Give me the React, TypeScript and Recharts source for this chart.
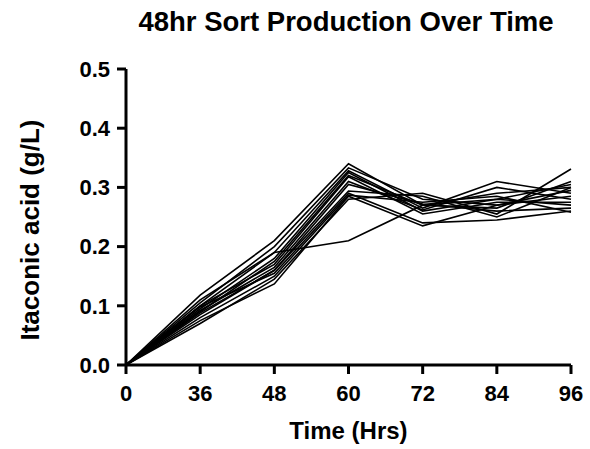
import React from 'react';
import { LineChart, Line, XAxis, YAxis, Label } from 'recharts';

const timeLabels = ['0', '36', '48', '60', '72', '84', '96'];
const yTicks = [0, 0.1, 0.2, 0.3, 0.4, 0.5];

const s1 = [0, 0.118, 0.21, 0.34, 0.27, 0.29, 0.3];
const s2 = [0, 0.105, 0.2, 0.333, 0.28, 0.27, 0.285];
const s3 = [0, 0.1, 0.19, 0.328, 0.265, 0.31, 0.29];
const s4 = [0, 0.095, 0.18, 0.325, 0.26, 0.28, 0.305];
const s5 = [0, 0.09, 0.175, 0.32, 0.27, 0.265, 0.31];
const s6 = [0, 0.1, 0.17, 0.318, 0.255, 0.275, 0.275];
const s7 = [0, 0.092, 0.165, 0.31, 0.262, 0.3, 0.28];
const s8 = [0, 0.088, 0.16, 0.305, 0.272, 0.26, 0.265];
const s9 = [0, 0.085, 0.16, 0.294, 0.285, 0.25, 0.3];
const s10 = [0, 0.098, 0.155, 0.29, 0.24, 0.245, 0.26];
const s11 = [0, 0.08, 0.15, 0.287, 0.275, 0.285, 0.258];
const s12 = [0, 0.075, 0.137, 0.285, 0.235, 0.27, 0.295];
const s13 = [0, 0.07, 0.145, 0.28, 0.29, 0.255, 0.331];
const s14 = [0, 0.11, 0.19, 0.21, 0.27, 0.28, 0.27];

const series = [s1, s2, s3, s4, s5, s6, s7, s8, s9, s10, s11, s12, s13, s14];

const data = timeLabels.map((t, i) => {
  const row: Record<string, string | number> = { t };
  series.forEach((s, k) => {
    row['s' + k] = s[i];
  });
  return row;
});

const font = '"Liberation Sans", Arial, sans-serif';

const YTitle = () => (
  <text
    x={30}
    y={230}
    transform="rotate(-90 30 230)"
    textAnchor="middle"
    dominantBaseline="central"
    style={{ fill: '#000', fontSize: 26, fontWeight: 'bold', fontFamily: font }}
  >
    Itaconic acid (g/L)
  </text>
);

export default function App() {
  return (
    <div style={{ position: 'absolute', left: 0, top: 0, width: 590, height: 449, background: '#fff', fontFamily: font }}>
      <div style={{ position: 'absolute', left: 126, width: 440, top: 6, textAlign: 'center', fontWeight: 'bold', fontSize: 27.5, lineHeight: '31px', fontFamily: font, color: '#000' }}>
        48hr Sort Production Over Time
      </div>
      <LineChart width={590} height={449} data={data} margin={{ top: 69, right: 19, bottom: 0, left: 0 }}>
        <XAxis
          dataKey="t"
          type="category"
          height={84}
          axisLine={{ stroke: '#000', strokeWidth: 3 }}
          tickLine={{ stroke: '#000', strokeWidth: 3 }}
          tickSize={9}
          tickMargin={11}
          tick={{ fill: '#000', fontSize: 22, fontWeight: 'bold', fontFamily: font }}
          interval={0}
        >
          <Label value="Time (Hrs)" position="insideBottom" offset={10} style={{ fill: '#000', fontSize: 24, fontWeight: 'bold', fontFamily: font }} />
        </XAxis>
        <YAxis
          type="number"
          domain={[0, 0.5]}
          ticks={yTicks}
          width={126}
          axisLine={{ stroke: '#000', strokeWidth: 3 }}
          tickLine={{ stroke: '#000', strokeWidth: 3 }}
          tickSize={9}
          tickMargin={7}
          tick={{ fill: '#000', fontSize: 22, fontWeight: 'bold', fontFamily: font }}
          tickFormatter={(v: number) => v.toFixed(1)}
          allowDataOverflow
        >
          <Label content={YTitle} />
        </YAxis>
        {series.map((_, k) => (
          <Line key={k} dataKey={'s' + k} stroke="#000" strokeWidth={1.6} dot={false} isAnimationActive={false} />
        ))}
      </LineChart>
    </div>
  );
}
